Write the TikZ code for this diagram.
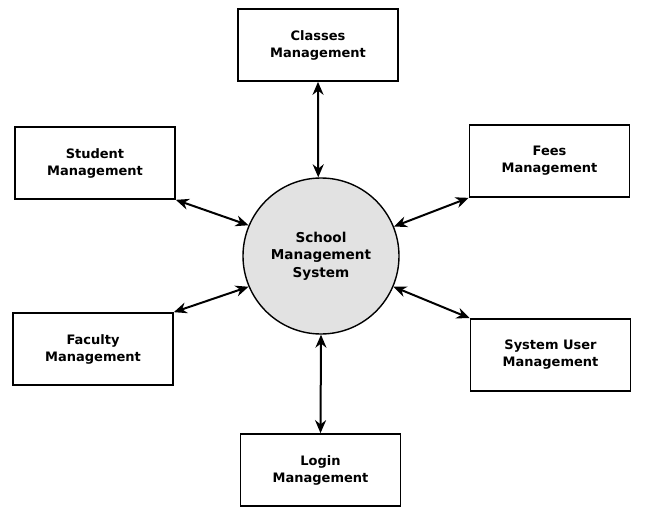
\documentclass[tikz,border=0pt]{standalone}
\usepackage{fontspec}
\setmainfont{DejaVu Sans}
\usetikzlibrary{arrows.meta,positioning,shapes.geometric}
\definecolor{hubgray}{RGB}{226,226,226}
\tikzset{
    >={Stealth[length=13pt,width=11pt]},
    module/.style={
        rectangle,
        draw=black,
        line width=1.7pt,
        fill=white,
        minimum width=160pt,
        minimum height=72pt,
        align=center,
        font={\fontsize{13pt}{17pt}\selectfont\bfseries}
    },
    hub/.style={
        circle,
        draw=black,
        line width=1.4pt,
        fill=hubgray,
        minimum size=156pt,
        inner sep=0pt,
        align=center,
        font={\fontsize{13.6pt}{17.5pt}\selectfont\bfseries}
    },
    link/.style={draw, line width=2pt, <->},
}
\begin{document}
\begin{tikzpicture}[x=1pt,y=-1pt]
\useasboundingbox (0,0) rectangle (655,516);
\node[hub] (sms) at (321,256) {School\\Management\\System};
\node[module] (classes) at (318,45) {Classes\\Management};
\node[module] (student) at (95,163) {Student\\Management};
\node[module] (fees) at (549.5,161) {Fees\\Management};
\node[module] (faculty) at (93,349) {Faculty\\Management};
\node[module] (sysuser) at (550.5,355) {System User\\Management};
\node[module] (login) at (320.5,470) {Login\\Management};

\draw[link] (classes.south) -- (sms.92);
\draw[link] (student.south east) -- (sms.157);
\draw[link] (fees.south west) -- (sms.22);
\draw[link] (faculty.north east) -- (sms.203);
\draw[link] (sysuser.north west) -- (sms.337);
\draw[link] (login.north) -- (sms.south);
\end{tikzpicture}
\end{document}
